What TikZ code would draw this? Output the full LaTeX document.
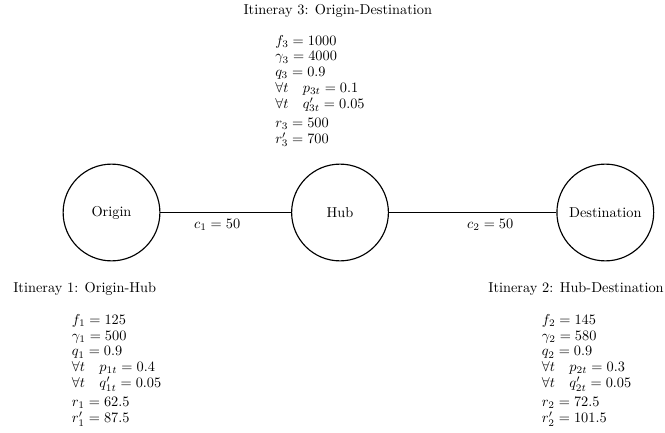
\documentclass[tikz,border=0pt]{standalone}
\usepackage{amsmath}
\usepackage{tikz}
\usetikzlibrary{shapes.geometric, arrows}
\tikzstyle{place} = [circle, minimum size=2.37cm, inner sep=0pt,
           text centered, draw=black, thick]
\tikzstyle{itintitle} = [anchor=base, inner sep=0pt]
\tikzstyle{params} = [anchor=north west, align=left, inner sep=0pt,
           font=\fontsize{10}{11}\selectfont]
\tikzstyle{link} = [thick]

\begin{document}
\begin{tikzpicture}
\useasboundingbox (-2.731,-5.376) rectangle (13.555,5.204);
\node (origin) [place] at (0,0) {Origin};
\node (hub) [place] at (5.596,0) {Hub};
\node (dest) [place] at (12.093,0) {Destination};
\draw [link] (origin) -- node[pos=0.434, below=1pt] (cost1) {$c_1 = 50$} (hub);
\draw [link] (hub) -- node[pos=0.605, below=1pt] (cost2) {$c_2 = 50$} (dest);
% itinerary 3 (above)
\node (title3) [itintitle] at (5.542,4.861) {Itineray 3: Origin-Destination};
\node (par3) [params] at (4.004,4.35)
   {$f_3 = 1000$\\ $\gamma_3 = 4000$\\ $q_3 = 0.9$\\
    $\forall t \quad p_{3t} = 0.1$\\ $\forall t \quad q'_{3t} = 0.05$\\[2.5pt]
    $r_3 = 500$\\ $r'_3 = 700$};
% itinerary 1 (left)
\node (title1) [itintitle] at (-0.656,-1.954) {Itineray 1: Origin-Hub};
\node (par1) [params] at (-0.975,-2.487)
   {$f_1 = 125$\\ $\gamma_1 = 500$\\ $q_1 = 0.9$\\
    $\forall t \quad p_{1t} = 0.4$\\ $\forall t \quad q'_{1t} = 0.05$\\[2.5pt]
    $r_1 = 62.5$\\ $r'_1 = 87.5$};
% itinerary 2 (right)
\node (title2) [itintitle] at (11.376,-1.954) {Itineray 2: Hub-Destination};
\node (par2) [params] at (10.535,-2.487)
   {$f_2 = 145$\\ $\gamma_2 = 580$\\ $q_2 = 0.9$\\
    $\forall t \quad p_{2t} = 0.3$\\ $\forall t \quad q'_{2t} = 0.05$\\[2.5pt]
    $r_2 = 72.5$\\ $r'_2 = 101.5$};
\end{tikzpicture}
\end{document}
